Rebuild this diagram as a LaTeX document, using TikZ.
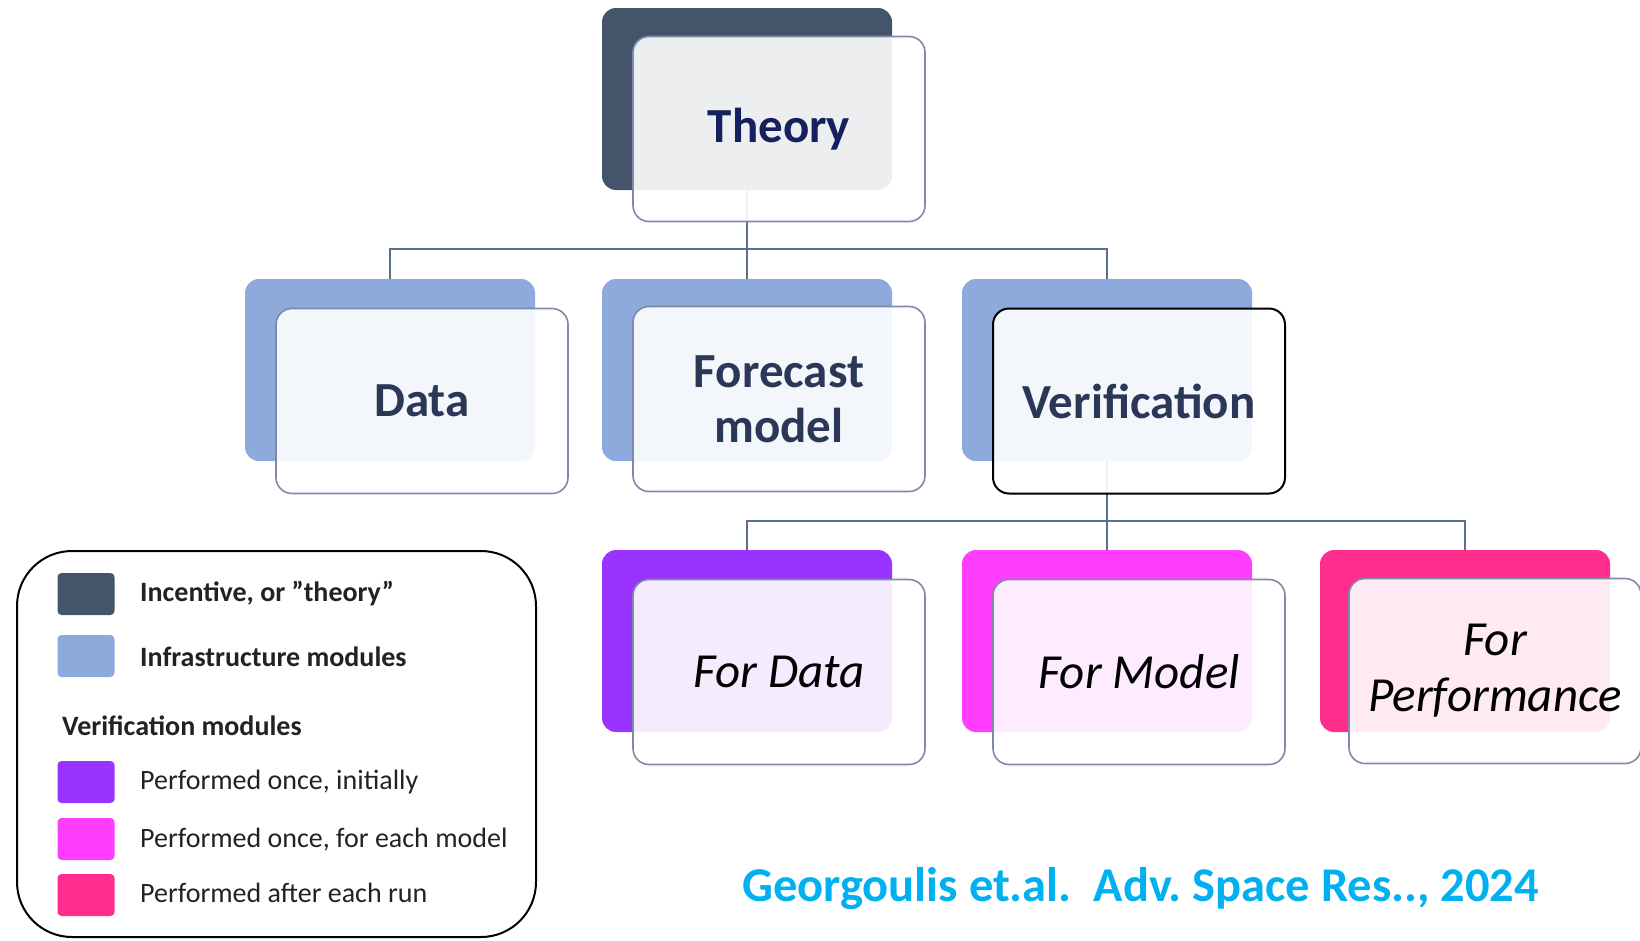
\documentclass[tikz,border=0pt]{standalone}
\usepackage{fontspec}
\setmainfont{Carlito}
\frenchspacing
\definecolor{theorydark}{HTML}{44546A}
\definecolor{infra}{HTML}{8EA9DB}
\definecolor{vpurple}{HTML}{9933FF}
\definecolor{vmagenta}{HTML}{FF3DFF}
\definecolor{vpink}{HTML}{FF2E8C}
\definecolor{frameblue}{HTML}{7D8BA6}
\definecolor{wire}{HTML}{5B6F8F}
\definecolor{theorytext}{HTML}{14215E}
\definecolor{modtext}{HTML}{2A3757}
\definecolor{citecyan}{HTML}{00B0F0}
\definecolor{legtext}{HTML}{222222}
\begin{document}
\begin{tikzpicture}[x=1pt,y=-1pt,
  backbox/.style={rectangle, rounded corners=14pt, minimum width=290pt,
    minimum height=182pt, inner sep=0pt},
  frontbox/.style={rectangle, rounded corners=16pt, minimum width=292pt,
    minimum height=185pt, inner sep=0pt, fill=white, fill opacity=0.9,
    text opacity=1, draw=frameblue, line width=1.6pt, align=center,
    font=\fontsize{49}{55}\selectfont},
  infratext/.style={font=\fontsize{49}{55}\selectfont\bfseries, text=modtext},
  verittext/.style={font=\fontsize{49}{56}\selectfont\itshape, text=black},
  conn/.style={draw=wire, line width=1.6pt},
  swatch/.style={rectangle, rounded corners=4pt, minimum width=57pt,
    minimum height=42pt, inner sep=0pt},
  legitem/.style={anchor=west, inner sep=0pt, text=legtext,
    font=\fontsize{28}{32}\selectfont},
]
\useasboundingbox (0,0) rectangle (1640,940);

% back layer of every module
\node[backbox, fill=theorydark] (theoryB) at (747,99) {};
\node[backbox, fill=infra] (dataB) at (390,370) {};
\node[backbox, fill=infra] (fcB) at (747,370) {};
\node[backbox, fill=infra] (verB) at (1107,370) {};
\node[backbox, fill=vpurple] (fdB) at (747,641) {};
\node[backbox, fill=vmagenta] (fmB) at (1107,641) {};
\node[backbox, fill=vpink] (fpB) at (1465,641) {};

% tree connectors
\coordinate (bus1) at (747,249);
\coordinate (bus2) at (1107,521);
\draw[conn] (theoryB.south) -- (bus1);
\draw[conn] (bus1) -| (dataB.north);
\draw[conn] (bus1) -| (verB.north);
\draw[conn] (bus1) -- (fcB.north);
\draw[conn] (verB.south) -- (bus2);
\draw[conn] (bus2) -| (fdB.north);
\draw[conn] (bus2) -| (fpB.north);
\draw[conn] (bus2) -- (fmB.north);

% front layer with labels
\node[frontbox, font=\fontsize{49}{55}\selectfont\bfseries, text=theorytext]
  (theory) at (779,129) {Theory};
\node[frontbox, infratext] (data) at (422,401) {Data};
\node[frontbox, infratext] (fc) at (779,399) {Forecast\\model};
\node[frontbox, infratext, draw=black, line width=2pt] (ver) at (1139,401) {Verification};
\node[frontbox, verittext] (fd) at (779,672) {For Data};
\node[frontbox, verittext] (fm) at (1139,672) {For Model};
\node[frontbox, verittext] (fp) at (1495,671) {For\\Performance};

% legend
\node[draw=black, line width=2pt, rounded corners=55pt, minimum width=519pt,
  minimum height=386pt, inner sep=0pt] (legend) at (276.5,744) {};
\node[swatch, fill=theorydark] (sw1) at (86,594) {};
\node[swatch, fill=infra] (sw2) at (86,656) {};
\node[swatch, fill=vpurple] (sw3) at (86,782) {};
\node[swatch, fill=vmagenta] (sw4) at (86,839) {};
\node[swatch, fill=vpink] (sw5) at (86,895) {};
\node[legitem, font=\fontsize{28}{32}\selectfont\bfseries] (l1) at (140,594) {Incentive, or ”theory”};
\node[legitem, font=\fontsize{28}{32}\selectfont\bfseries] (l2) at (140,657) {Infrastructure modules};
\node[legitem, font=\fontsize{28}{32}\selectfont\bfseries] (l3) at (62,726) {Verification modules};
\node[legitem] (l4) at (140,782) {Performed once, initially};
\node[legitem] (l5) at (140,840) {Performed once, for each model};
\node[legitem] (l6) at (140,893) {Performed after each run};

% reference line
\node[anchor=west, inner sep=0pt, text=citecyan,
  font=\fontsize{48.5}{54}\selectfont\bfseries] (cite) at (742,889)
  {Georgoulis et.al.\ \ Adv. Space Res.., 2024};
\end{tikzpicture}
\end{document}
